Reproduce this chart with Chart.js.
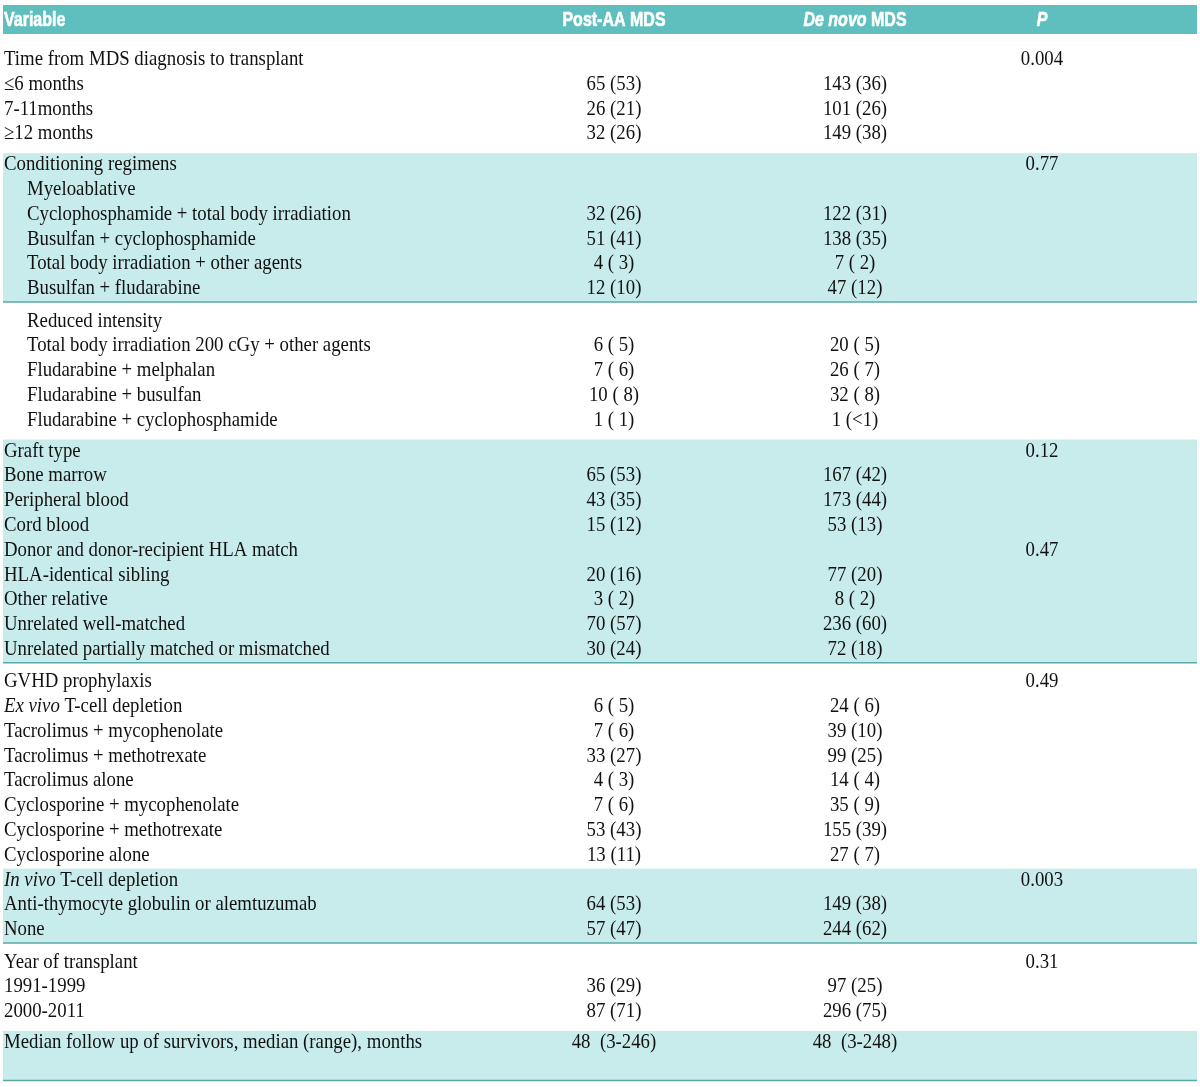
<!DOCTYPE html>
<html><head><meta charset="utf-8">
<script src="https://cdn.jsdelivr.net/npm/chart.js@4.4.1/dist/chart.umd.min.js"></script>
<style>html,body{margin:0;padding:0;background:#fff}#wrap{width:1200px;height:1087px;position:relative}</style>
</head><body><div id="wrap"><canvas id="c" width="1200" height="1087"></canvas></div>
<script>
// ---------- DATA ----------
const columnHeaders = ['Variable', 'Post-AA MDS', '_De novo_ MDS', '_P_'];
const rowLabels = [
  'Time from MDS diagnosis to transplant', '≤6 months', '7-11months', '≥12 months',
  'Conditioning regimens', 'Myeloablative', 'Cyclophosphamide + total body irradiation', 'Busulfan + cyclophosphamide', 'Total body irradiation + other agents', 'Busulfan + fludarabine',
  'Reduced intensity', 'Total body irradiation 200 cGy + other agents', 'Fludarabine + melphalan', 'Fludarabine + busulfan', 'Fludarabine + cyclophosphamide',
  'Graft type', 'Bone marrow', 'Peripheral blood', 'Cord blood', 'Donor and donor-recipient HLA match', 'HLA-identical sibling', 'Other relative', 'Unrelated well-matched', 'Unrelated partially matched or mismatched',
  'GVHD prophylaxis', '_Ex vivo_ T-cell depletion', 'Tacrolimus + mycophenolate', 'Tacrolimus + methotrexate', 'Tacrolimus alone', 'Cyclosporine + mycophenolate', 'Cyclosporine + methotrexate', 'Cyclosporine alone',
  '_In vivo_ T-cell depletion', 'Anti-thymocyte globulin or alemtuzumab', 'None',
  'Year of transplant', '1991-1999', '2000-2011',
  'Median follow up of survivors, median (range), months', ''
];
const indentedRows = [5,6,7,8,9,10,11,12,13,14];
const postCounts   = [null,65,26,32, null,null,32,51,4,12, null,6,7,10,1, null,65,43,15,null,20,3,70,30, null,6,7,33,4,7,53,13, null,64,57, null,36,87, 48,null];
const postPercents = [null,53,21,26, null,null,26,41,3,10, null,5,6,8,1, null,53,35,12,null,16,2,57,24, null,5,6,27,3,6,43,11, null,53,47, null,29,71, '3-246',null];
const novoCounts   = [null,143,101,149, null,null,122,138,7,47, null,20,26,32,1, null,167,173,53,null,77,8,236,72, null,24,39,99,14,35,155,27, null,149,244, null,97,296, 48,null];
const novoPercents = [null,36,26,38, null,null,31,35,2,12, null,5,7,8,'<1', null,42,44,13,null,20,2,60,18, null,6,10,25,4,9,39,7, null,38,62, null,25,75, '3-248',null];
const pValues      = ['0.004',null,null,null, '0.77',null,null,null,null,null, null,null,null,null,null, '0.12',null,null,null,'0.47',null,null,null,null, '0.49',null,null,null,null,null,null,null, '0.003',null,null, '0.31',null,null, null,null];

// ---------- LAYOUT / STYLE ----------
const sectionSizes  = [4,6,5,9,8,3,3,2];
const sectionShaded = [false,true,false,true,false,true,false,true];
const sectionPadTop = [14,0,7.5,0,7.5,0,7.5,0];
const sectionPadBot = [6,0,6,0,0,0,6,0];
const ROW_H = 24.8, HEADER_TOP = 5, HEADER_H = 29;
const TABLE_L = 3, TABLE_R = 1197;
const colX = [4, 614, 855, 1042];
const INDENT = 23;
const COLORS = { header:'#5fbfbf', shade:'#c8ebeb', rule:'#5aa9a9', text:'#111', headText:'#ffffff' };
const BODY_FONT = 'Liberation Serif', BODY_SIZE = 21, BODY_SX = 0.895;
const HEAD_FONT = 'Liberation Sans', HEAD_SIZE = 20, HEAD_SX = 0.8;

// compute row tops (in y-scale units)
const rowTop = [];
const sections = [];
(function(){
  let y = HEADER_TOP + HEADER_H; let r = 0;
  sectionSizes.forEach((n, s) => {
    const top = y; y += sectionPadTop[s];
    for (let k = 0; k < n; k++) { rowTop[r++] = y; y += ROW_H; }
    y += sectionPadBot[s];
    sections.push({top, bottom: y, shaded: sectionShaded[s]});
  });
})();

function fmtCell(n, p) {
  if (n === null || n === undefined) return '';
  if (typeof p === 'string' && p.indexOf('-') >= 0) return n + '  (' + p + ')';
  const ps = (typeof p === 'number' && p < 10) ? ' ' + p : String(p);
  return n + ' (' + ps + ')';
}

function drawRich(ctx, text, x, y, align, size, family, weight, sx, strokeW) {
  const parts = text.split('_');
  const segs = parts.map((t, i) => ({t, italic: i % 2 === 1})).filter(s => s.t.length);
  const fontOf = s => (s.italic ? 'italic ' : '') + weight + ' ' + size + 'px "' + family + '"';
  let total = 0;
  segs.forEach(s => { ctx.font = fontOf(s); s.w = ctx.measureText(s.t).width * sx; total += s.w; });
  let px = align === 'center' ? x - total / 2 : x;
  segs.forEach(s => {
    ctx.save(); ctx.font = fontOf(s); ctx.translate(px, y); ctx.scale(sx, 1);
    ctx.textAlign = 'left'; ctx.textBaseline = 'alphabetic'; ctx.fillText(s.t, 0, 0);
    if (strokeW) { ctx.strokeStyle = ctx.fillStyle; ctx.lineWidth = strokeW; ctx.lineJoin = 'round'; ctx.strokeText(s.t, 0, 0); }
    ctx.restore();
    px += s.w;
  });
}

const tablePlugin = {
  id: 'tablePlugin',
  beforeDatasetsDraw(chart) {
    const {ctx, scales: {x, y}} = chart;
    ctx.save();
    ctx.fillStyle = COLORS.header;
    ctx.fillRect(x.getPixelForValue(TABLE_L), y.getPixelForValue(HEADER_TOP), x.getPixelForValue(TABLE_R) - x.getPixelForValue(TABLE_L), y.getPixelForValue(HEADER_TOP + HEADER_H) - y.getPixelForValue(HEADER_TOP));
    sections.forEach(sec => {
      if (!sec.shaded) return;
      const x0 = x.getPixelForValue(TABLE_L), x1 = x.getPixelForValue(TABLE_R);
      const y0 = y.getPixelForValue(sec.top), y1 = y.getPixelForValue(sec.bottom);
      ctx.fillStyle = COLORS.shade; ctx.fillRect(x0, y0, x1 - x0, y1 - y0);
      ctx.strokeStyle = COLORS.rule; ctx.lineWidth = 1.5;
      ctx.beginPath(); ctx.moveTo(x0, y1); ctx.lineTo(x1, y1); ctx.stroke();
    });
    ctx.restore();
  },
  afterDatasetsDraw(chart) {
    const {ctx, scales: {x, y}} = chart;
    ctx.save();
    ctx.fillStyle = COLORS.headText;
    const hb = y.getPixelForValue(HEADER_TOP + 21);
    columnHeaders.forEach((h, i) => {
      drawRich(ctx, h, x.getPixelForValue(colX[i]), hb, i === 0 ? 'left' : 'center', HEAD_SIZE, HEAD_FONT, 'bold', HEAD_SX, 0.6);
    });
    ctx.fillStyle = COLORS.text;
    rowLabels.forEach((lab, r) => {
      const base = y.getPixelForValue(rowTop[r] + 17);
      const ind = indentedRows.includes(r) ? INDENT : 0;
      if (lab) drawRich(ctx, lab, x.getPixelForValue(colX[0] + ind), base, 'left', BODY_SIZE, BODY_FONT, 'normal', BODY_SX);
      const a = fmtCell(postCounts[r], postPercents[r]);
      const b = fmtCell(novoCounts[r], novoPercents[r]);
      if (a) drawRich(ctx, a, x.getPixelForValue(colX[1]), base, 'center', BODY_SIZE, BODY_FONT, 'normal', BODY_SX);
      if (b) drawRich(ctx, b, x.getPixelForValue(colX[2]), base, 'center', BODY_SIZE, BODY_FONT, 'normal', BODY_SX);
      if (pValues[r]) drawRich(ctx, pValues[r], x.getPixelForValue(colX[3]), base, 'center', BODY_SIZE, BODY_FONT, 'normal', BODY_SX);
    });
    ctx.restore();
  }
};

new Chart(document.getElementById('c'), {
  type: 'scatter',
  data: { datasets: [{ data: [], pointRadius: 0 }] },
  options: {
    responsive: false, animation: false, events: [],
    layout: { padding: 0 },
    plugins: { legend: { display: false }, tooltip: { enabled: false } },
    scales: {
      x: { type: 'linear', min: 0, max: 1200, display: false },
      y: { type: 'linear', min: 0, max: 1087, reverse: true, display: false }
    }
  },
  plugins: [tablePlugin]
});
</script></body></html>
